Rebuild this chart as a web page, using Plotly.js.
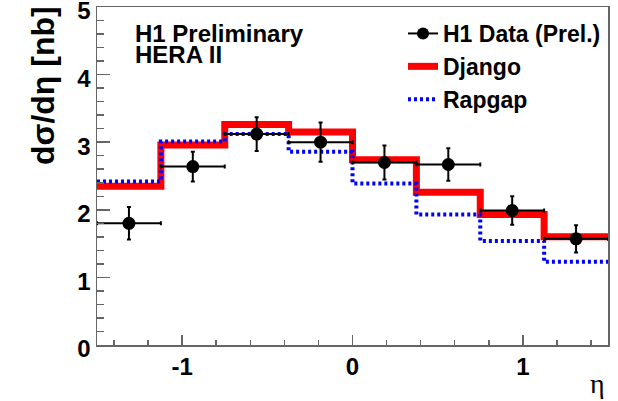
<!DOCTYPE html>
<html>
<head>
<meta charset="utf-8">
<script src="https://cdn.plot.ly/plotly-3.0.1.min.js"></script>
<style>
  html, body { margin: 0; padding: 0; background: #fff; }
  #chart { width: 618px; height: 401px; }
</style>
</head>
<body>
<div id="chart"></div>
<script>
// Bin edges in eta and bin centres
const binEdges = [-1.5, -1.125, -0.75, -0.375, 0, 0.375, 0.75, 1.125, 1.5];
const binCentres = [-1.3125, -0.9375, -0.5625, -0.1875, 0.1875, 0.5625, 0.9375, 1.3125];
const binHalfWidths = [0.1875, 0.1875, 0.1875, 0.1875, 0.1875, 0.1875, 0.1875, 0.1875];

// H1 preliminary data: d sigma / d eta [nb] with total errors
const dataValues = [1.80, 2.64, 3.12, 3.00, 2.70, 2.67, 1.99, 1.57];
const dataErrors = [0.24, 0.22, 0.25, 0.29, 0.25, 0.24, 0.21, 0.20];

// Monte Carlo predictions per bin
const djangoValues = [2.35, 2.96, 3.26, 3.15, 2.74, 2.26, 1.93, 1.60];
const rapgapValues = [2.42, 3.01, 3.12, 2.86, 2.39, 1.93, 1.54, 1.23];

// Text
const legendLabels = ['H1 Data (Prel.)', 'Django', 'Rapgap'];
const xTickVals = [-1, 0, 1];
const xTickText = ['-1', '0', '1'];
const yTickVals = [0, 1, 2, 3, 4, 5];
const yTickText = ['0', '1', '2', '3', '4', '5'];

// Histogram outline: repeat the last bin value so the step closes at the upper edge
function stepY(values) { return values.concat([values[values.length - 1]]); }

const W = 618, H = 401;
const M = { l: 97, r: 10, t: 7, b: 56 };
const PW = W - M.l - M.r, PH = H - M.t - M.b;
// page pixel -> paper fraction (used for text placement only)
const px = x => (x - M.l) / PW;
const py = y => (H - M.b - y) / PH;

const sans = 'Liberation Sans, Arial, Helvetica, sans-serif';

const traces = [
  {
    x: binEdges, y: stepY(djangoValues), type: 'scatter', mode: 'lines',
    line: { shape: 'hv', color: '#ff0000', width: 7 },
    name: legendLabels[1], legendrank: 2, hoverinfo: 'skip'
  },
  {
    x: binEdges, y: stepY(rapgapValues), type: 'scatter', mode: 'lines',
    line: { shape: 'hv', color: '#0000ff', width: 4, dash: '3px,3px' },
    name: legendLabels[2], legendrank: 3, hoverinfo: 'skip'
  },
  {
    x: binCentres, y: dataValues, type: 'scatter', mode: 'markers',
    marker: { color: '#000', size: 13 },
    error_y: { type: 'data', array: dataErrors, visible: true, color: '#000', thickness: 2, width: 2 },
    error_x: { type: 'data', array: binHalfWidths, visible: true, color: '#000', thickness: 2, width: 2 },
    name: legendLabels[0], showlegend: false
  },
  {
    // legend entry for the data: marker with a horizontal bar
    x: [null], y: [null], type: 'scatter', mode: 'lines+markers',
    line: { color: '#000', width: 2 }, marker: { color: '#000', size: 12 },
    name: legendLabels[0], legendrank: 1
  }
];

const axisCommon = {
  showgrid: false, zeroline: false, showline: true, mirror: true,
  linecolor: '#666', linewidth: 1.5,
  ticks: 'inside', tickcolor: '#666', tickwidth: 1.5,
  tickfont: { family: sans, size: 24, color: '#000', weight: 'bold' },
  ticklabeloverflow: 'allow',
  fixedrange: true
};

const layout = {
  width: W, height: H,
  margin: M,
  paper_bgcolor: '#fff', plot_bgcolor: '#fff',
  showlegend: true,
  legend: {
    x: px(403), y: py(12), xanchor: 'left', yanchor: 'top',
    bgcolor: 'rgba(0,0,0,0)', borderwidth: 0,
    font: { family: sans, size: 23, color: '#000', weight: 'bold' },
    itemwidth: 30, traceorder: 'normal'
  },
  xaxis: Object.assign({}, axisCommon, {
    range: [-1.5, 1.5],
    tickmode: 'array', tickvals: xTickVals, ticktext: xTickText,
    ticklen: 10,
    minor: { dtick: 0.2, tick0: 0, ticks: 'inside', ticklen: 5, tickcolor: '#666', tickwidth: 1.5, showgrid: false }
  }),
  yaxis: Object.assign({}, axisCommon, {
    range: [0, 5],
    tickmode: 'array', tickvals: yTickVals, ticktext: yTickText,
    ticklen: 13, ticklabelshift: 4,
    minor: { dtick: 0.2, tick0: 0, ticks: 'inside', ticklen: 7, tickcolor: '#666', tickwidth: 1.5, showgrid: false }
  }),
  annotations: [
    {
      text: 'dσ/dη [nb]', textangle: -90, showarrow: false,
      xref: 'paper', yref: 'paper', x: px(43), y: py(86), xanchor: 'center', yanchor: 'middle',
      font: { family: sans, size: 32, color: '#000', weight: 'bold' }
    },
    {
      text: 'η', showarrow: false,
      xref: 'paper', yref: 'paper', x: px(597), y: py(401), xanchor: 'center', yanchor: 'bottom',
      font: { family: 'Liberation Serif, Times New Roman, serif', size: 28, color: '#000' }
    },
    {
      text: 'H1 Preliminary', showarrow: false,
      xref: 'paper', yref: 'paper', x: px(133), y: py(34), xanchor: 'left', yanchor: 'middle',
      font: { family: sans, size: 24, color: '#000', weight: 'bold' }
    },
    {
      text: 'HERA II', showarrow: false,
      xref: 'paper', yref: 'paper', x: px(133), y: py(55), xanchor: 'left', yanchor: 'middle',
      font: { family: sans, size: 24, color: '#000', weight: 'bold' }
    }
  ]
};

Plotly.newPlot('chart', traces, layout, { displayModeBar: false, staticPlot: true });
</script>
</body>
</html>
